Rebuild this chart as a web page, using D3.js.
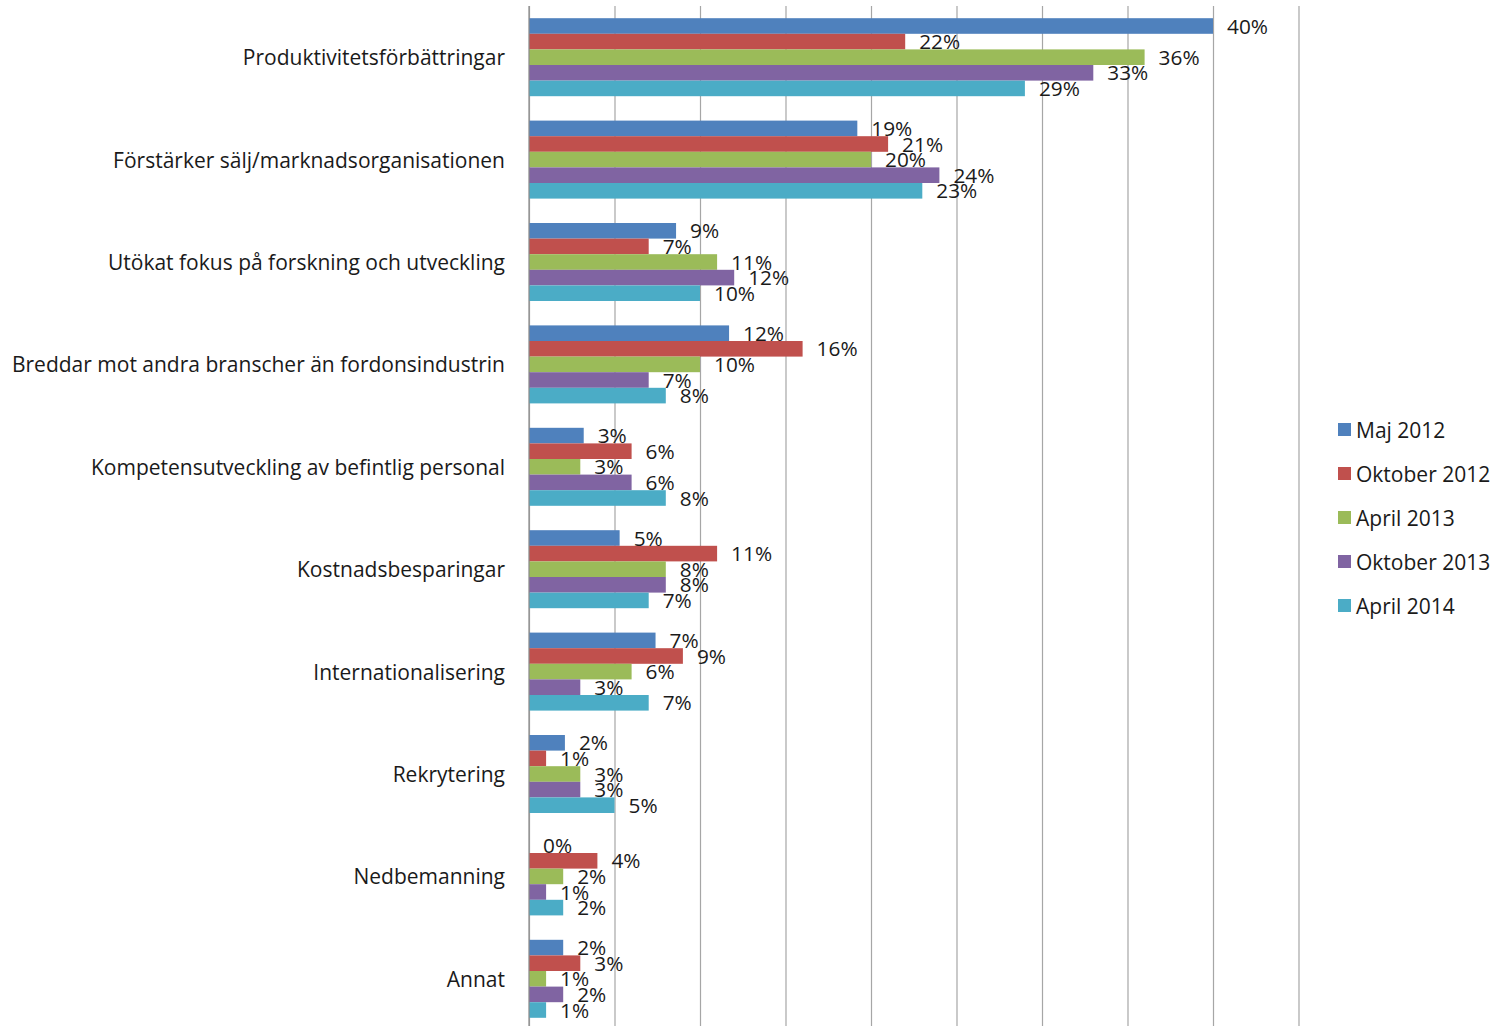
<!DOCTYPE html>
<html>
<head>
<meta charset="utf-8">
<script src="https://cdn.jsdelivr.net/npm/d3@7"></script>
<style>
  body { margin: 0; background: #fff; }
  text { font-family: "Open Sans", sans-serif; fill: #1a1a1a; }
</style>
</head>
<body>
<div id="chart"></div>
<script>
// categories, top to bottom
var categories = [
  "Produktivitetsförbättringar",
  "Förstärker sälj/marknadsorganisationen",
  "Utökat fokus på forskning och utveckling",
  "Breddar mot andra branscher än fordonsindustrin",
  "Kompetensutveckling av befintlig personal",
  "Kostnadsbesparingar",
  "Internationalisering",
  "Rekrytering",
  "Nedbemanning",
  "Annat"
];

var seriesNames = ["Maj 2012", "Oktober 2012", "April 2013", "Oktober 2013", "April 2014"];
var seriesColors = ["#4f81bd", "#c0504d", "#9bbb59", "#8064a2", "#4bacc6"];

// values in percent, one array per survey
var maj2012 = [40, 19.2, 8.6, 11.7, 3.2, 5.3, 7.4, 2.1, 0, 2];
var okt2012 = [22, 21, 7, 16, 6, 11, 9, 1, 4, 3];
var apr2013 = [36, 20, 11, 10, 3, 8, 6, 3, 2, 1];
var okt2013 = [33, 24, 12, 7, 6, 8, 3, 3, 1, 2];
var apr2014 = [29, 23, 10, 8, 8, 7, 7, 5, 2, 1];

var gridTicks = [0, 5, 10, 15, 20, 25, 30, 35, 40, 45];

var seriesValues = [maj2012, okt2012, apr2013, okt2013, apr2014];

var width = 1496, height = 1026;
var margin = {top: 6, left: 529};
var plotRight = 1298.5, plotBottom = 1030;

var svg = d3.select("#chart")
  .append("svg")
    .attr("width", width)
    .attr("height", height);

// scales
var x = d3.scaleLinear()
  .domain([0, 45])
  .range([margin.left, plotRight]);

var y0 = d3.scaleBand()
  .domain(categories)
  .range([margin.top, plotBottom])
  .padding(0);

var y1 = d3.scaleBand()
  .domain(seriesNames)
  .range([12.2, y0.bandwidth() - 12.2])
  .padding(0);

// gridlines
svg.append("g")
  .attr("transform", "translate(0," + margin.top + ")")
  .call(d3.axisBottom(x).tickValues(gridTicks).tickSize(plotBottom - margin.top).tickFormat(""))
  .call(function(g) {
    g.select(".domain").remove();
    g.selectAll(".tick line").attr("stroke", "#a6a6a6").attr("stroke-width", 1.2);
  });

// bars
var rows = [];
categories.forEach(function(c, i) {
  seriesNames.forEach(function(s, j) {
    rows.push({cat: c, series: s, idx: j, value: seriesValues[j][i]});
  });
});

var fmt = d3.format(".0f");

svg.append("g").selectAll("rect")
  .data(rows)
  .enter().append("rect")
    .attr("x", x(0))
    .attr("y", function(d) { return y0(d.cat) + y1(d.series); })
    .attr("width", function(d) { return x(d.value) - x(0); })
    .attr("height", y1.bandwidth())
    .attr("fill", function(d) { return seriesColors[d.idx]; });

// vertical axis line
svg.append("line")
  .attr("x1", x(0)).attr("x2", x(0))
  .attr("y1", margin.top).attr("y2", plotBottom)
  .attr("stroke", "#8c8c8c")
  .attr("stroke-width", 1.2);

// data labels (they overlap in the original too)
svg.append("g").selectAll("text")
  .data(rows)
  .enter().append("text")
    .attr("x", function(d) { return x(d.value) + 14; })
    .attr("y", function(d) { return y0(d.cat) + y1(d.series) + y1.bandwidth() / 2; })
    .attr("dy", "0.37em")
    .style("font-size", "20.8px")
    .text(function(d) { return fmt(d.value) + "%"; });

// category labels
svg.append("g").selectAll("text")
  .data(categories)
  .enter().append("text")
    .attr("x", 505)
    .attr("y", function(d) { return y0(d) + y0.bandwidth() / 2; })
    .attr("dy", "0.38em")
    .attr("text-anchor", "end")
    .style("font-size", "21px")
    .text(function(d) { return d; });

// legend
var legend = svg.append("g")
  .selectAll("g")
  .data(seriesNames)
  .enter().append("g")
    .attr("transform", function(d, i) { return "translate(1338," + (430 + i * 44) + ")"; });

legend.append("rect")
  .attr("x", 0).attr("y", -7)
  .attr("width", 13).attr("height", 13)
  .attr("fill", function(d, i) { return seriesColors[i]; });

legend.append("text")
  .attr("x", 18)
  .attr("y", 0)
  .attr("dy", "0.37em")
  .style("font-size", "21px")
  .text(function(d) { return d; });
</script>
</body>
</html>
